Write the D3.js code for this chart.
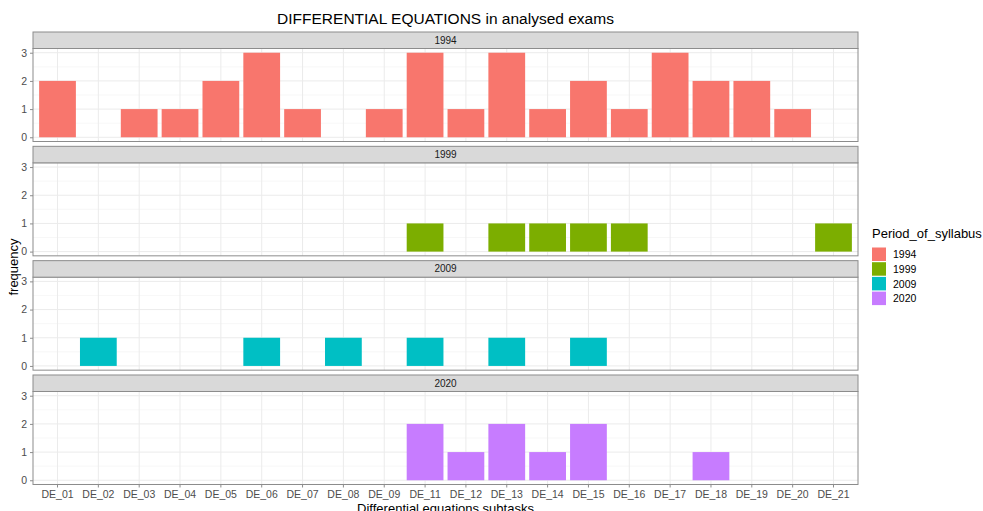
<!DOCTYPE html>
<html>
<head>
<meta charset="utf-8">
<script src="https://cdn.jsdelivr.net/npm/d3@7"></script>
<style>
    body { margin: 0; background: #fff; }
    svg { font-family: "Liberation Sans", Arial, sans-serif; }
</style>
</head>
<body>
<div id="chart"></div>
<script>
// Data
var subtasks = ['DE_01', 'DE_02', 'DE_03', 'DE_04', 'DE_05', 'DE_06', 'DE_07', 'DE_08', 'DE_09', 'DE_11',
                'DE_12', 'DE_13', 'DE_14', 'DE_15', 'DE_16', 'DE_17', 'DE_18', 'DE_19', 'DE_20', 'DE_21'];
var periods = ['1994', '1999', '2009', '2020'];
var freq1994 = [2, 0, 1, 1, 2, 3, 1, 0, 1, 3, 1, 3, 1, 2, 1, 3, 2, 2, 1, 0];
var freq1999 = [0, 0, 0, 0, 0, 0, 0, 0, 0, 1, 0, 1, 1, 1, 1, 0, 0, 0, 0, 1];
var freq2009 = [0, 1, 0, 0, 0, 1, 0, 1, 0, 1, 0, 1, 0, 1, 0, 0, 0, 0, 0, 0];
var freq2020 = [0, 0, 0, 0, 0, 0, 0, 0, 0, 2, 1, 2, 1, 2, 0, 0, 1, 0, 0, 0];
var yTicks = [0, 1, 2, 3];
var colors = ['#F8766D', '#7CAE00', '#00BFC4', '#C77CFF'];

var series = [freq1994, freq1999, freq2009, freq2020];

// Layout
var width = 983, height = 511;
var left = 33, right = 858;
var firstStrip = 32, facetStep = 114.33, stripH = 16.5, panelH = 93;

var svg = d3.select('#chart').append('svg')
    .attr('width', width)
    .attr('height', height);

// Scales
var x = d3.scaleBand().domain(subtasks).range([left, right]).paddingInner(0.1).paddingOuter(0.15);
var color = d3.scaleOrdinal().domain(periods).range(colors);

// Title
svg.append('text')
    .attr('x', (left + right) / 2)
    .attr('y', 24)
    .attr('text-anchor', 'middle')
    .style('font-size', '15.5px')
    .attr('fill', '#000')
    .text('DIFFERENTIAL EQUATIONS in analysed exams');

// Facets
periods.forEach(function(period, i) {
    var stripTop = firstStrip + i * facetStep;
    var panelTop = stripTop + stripH;
    var panelBottom = panelTop + panelH;
    var y = d3.scaleLinear().domain([-0.15, 3.15]).range([panelBottom, panelTop]);

    var g = svg.append('g');

    // Minor grid
    g.selectAll('.minor')
        .data([0.5, 1.5, 2.5])
        .enter().append('line')
        .attr('x1', left).attr('x2', right)
        .attr('y1', function(d) { return y(d); })
        .attr('y2', function(d) { return y(d); })
        .attr('stroke', '#F2F2F2')
        .attr('stroke-width', 0.6);

    // Major grid
    g.selectAll('.hgrid')
        .data(yTicks)
        .enter().append('line')
        .attr('x1', left).attr('x2', right)
        .attr('y1', function(d) { return y(d); })
        .attr('y2', function(d) { return y(d); })
        .attr('stroke', '#EBEBEB')
        .attr('stroke-width', 1);
    g.selectAll('.vgrid')
        .data(subtasks)
        .enter().append('line')
        .attr('x1', function(d) { return x(d) + x.bandwidth() / 2; })
        .attr('x2', function(d) { return x(d) + x.bandwidth() / 2; })
        .attr('y1', panelTop).attr('y2', panelBottom)
        .attr('stroke', '#EBEBEB')
        .attr('stroke-width', 1);

    // Bars
    var rows = subtasks.map(function(s, j) { return {task: s, value: series[i][j]}; })
        .filter(function(d) { return d.value > 0; });
    g.selectAll('.bar')
        .data(rows)
        .enter().append('rect')
        .attr('x', function(d) { return x(d.task); })
        .attr('width', x.bandwidth())
        .attr('y', function(d) { return y(d.value); })
        .attr('height', function(d) { return y(0) - y(d.value); })
        .attr('fill', color(period));

    // Panel border
    g.append('rect')
        .attr('x', left).attr('y', panelTop)
        .attr('width', right - left).attr('height', panelH)
        .attr('fill', 'none')
        .attr('stroke', '#8C8C8C');

    // Strip
    g.append('rect')
        .attr('x', left).attr('y', stripTop)
        .attr('width', right - left).attr('height', stripH)
        .attr('fill', '#D9D9D9')
        .attr('stroke', '#8C8C8C');
    g.append('text')
        .attr('x', (left + right) / 2)
        .attr('y', stripTop + stripH / 2)
        .attr('dy', '0.35em')
        .attr('text-anchor', 'middle')
        .style('font-size', '10px')
        .attr('fill', '#1A1A1A')
        .text(period);

    // Y axis
    var yAxis = g.append('g')
        .attr('transform', 'translate(' + left + ',0)')
        .call(d3.axisLeft(y).tickValues(yTicks).tickSize(3).tickPadding(3).tickFormat(d3.format('d')));
    yAxis.select('.domain').remove();
    yAxis.selectAll('line').attr('stroke', '#8C8C8C');
    yAxis.selectAll('text').attr('fill', '#4D4D4D').style('font-size', '10.5px').style('font-family', null);

    // X axis on the last facet
    if(i === periods.length - 1) {
        var xAxis = g.append('g')
            .attr('transform', 'translate(0,' + panelBottom + ')')
            .call(d3.axisBottom(x).tickSize(3).tickPadding(3));
        xAxis.select('.domain').remove();
        xAxis.selectAll('line').attr('stroke', '#8C8C8C');
        xAxis.selectAll('text').attr('fill', '#4D4D4D').style('font-size', '10.5px').style('font-family', null);
    }
});

// Axis titles
svg.append('text')
    .attr('x', (left + right) / 2)
    .attr('y', 513)
    .attr('text-anchor', 'middle')
    .style('font-size', '13px')
    .text('Differential equations subtasks');
svg.append('text')
    .attr('transform', 'translate(18,267) rotate(-90)')
    .attr('text-anchor', 'middle')
    .style('font-size', '13px')
    .text('frequency');

// Legend
var legend = svg.append('g').attr('transform', 'translate(872,0)');
legend.append('text')
    .attr('x', 0)
    .attr('y', 238)
    .style('font-size', '13px')
    .text('Period_of_syllabus');
var item = legend.selectAll('.item')
    .data(periods)
    .enter().append('g')
    .attr('transform', function(d, k) { return 'translate(0,' + (247.5 + k * 14.7) + ')'; });
item.append('rect')
    .attr('width', 14).attr('height', 13.5)
    .attr('fill', function(d) { return color(d); });
item.append('text')
    .attr('x', 21)
    .attr('y', 7)
    .attr('dy', '0.35em')
    .style('font-size', '10.5px')
    .attr('fill', '#000')
    .text(function(d) { return d; });
</script>
</body>
</html>
